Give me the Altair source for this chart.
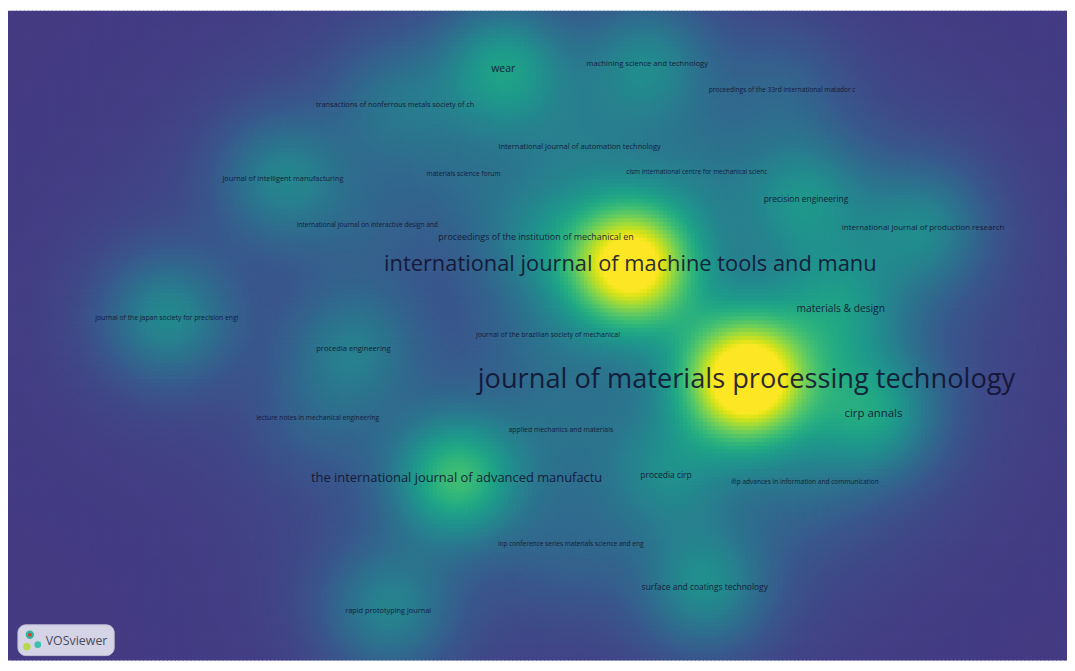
import altair as alt
import numpy as np
import pandas as pd

# ---- journals (label text, position in picture pixels, density weight, label font size)
names = [
    "journal of materials processing technology",
    "international journal of machine tools and manu",
    "the international journal of advanced manufactu",
    "cirp annals",
    "materials & design",
    "proceedings of the institution of mechanical en",
    "wear",
    "precision engineering",
    "international journal of production research",
    "surface and coatings technology",
    "procedia cirp",
    "machining science and technology",
    "proceedings of the 33rd international matador c",
    "transactions of nonferrous metals society of ch",
    "international journal of automation technology",
    "journal of intelligent manufacturing",
    "materials science forum",
    "cism international centre for mechanical scienc",
    "international journal on interactive design and",
    "journal of the japan society for precision engi",
    "procedia engineering",
    "journal of the brazilian society of mechanical",
    "lecture notes in mechanical engineering",
    "applied mechanics and materials",
    "ifip advances in information and communication",
    "iop conference series materials science and eng",
    "rapid prototyping journal",
]
node_x = [752, 635, 460, 880, 847, 540, 507, 812, 930, 710, 671, 652, 788, 398,
          584, 285, 467, 702, 370, 168, 356, 552, 320, 565, 811, 575, 391]
node_y = [385, 267, 485, 420, 312, 239, 68, 200, 230, 596, 482, 63, 89, 104,
          147, 180, 175, 173, 227, 322, 353, 339, 424, 436, 489, 552, 620]
weights = [1.14, 1.04, 0.58, 0.40, 0.29, 0.18, 0.42, 0.31, 0.30, 0.34, 0.24,
           0.30, 0.12, 0.20, 0.12, 0.30, 0.08, 0.10, 0.08, 0.34, 0.24, 0.08,
           0.10, 0.10, 0.08, 0.10, 0.30]
font_sizes = [27.4, 22.0, 13.0, 11.5, 10.3, 9.0, 10.6, 8.5, 8.0, 8.5, 8.5, 7.7,
              6.6, 7.3, 7.5, 7.4, 6.7, 6.5, 6.6, 6.9, 7.6, 7.0, 6.7, 6.9,
              6.6, 6.6, 7.4]

X0, X1, Y0, Y1 = 8, 1075, 8, 671
W, H = 1067, 655
CELL = 4
S1, S2, B = 44.0, 100.0, 0.12

gx = np.arange(X0, X1, CELL, dtype=float)
gy = np.arange(Y0, Y1, CELL, dtype=float)
GX, GY = np.meshgrid(gx + CELL / 2, gy + CELL / 2)
D = np.zeros_like(GX)
for x, y, w in zip(node_x, node_y, weights):
    r2 = (GX - x) ** 2 + (GY - y) ** 2
    D += w * ((1 - B) * np.exp(-r2 / (2 * S1 ** 2)) + B * np.exp(-r2 / (2 * S2 ** 2)))
D = np.clip(D, 0, 1)
grid = pd.DataFrame({
    "x": (GX - CELL / 2).ravel().round(1),
    "y": (GY - CELL / 2).ravel().round(1),
    "d": D.ravel().round(3),
})

labels = pd.DataFrame({"name": names, "x": node_x, "y": node_y, "fs": font_sizes})

xs = alt.Scale(domain=[X0, X1], nice=False, zero=False)
ys = alt.Scale(domain=[Y0, Y1], nice=False, zero=False, reverse=True)

density = alt.Chart(grid).mark_rect(clip=True).transform_calculate(
    x2=f"datum.x + {CELL + 1.2}", y2=f"datum.y + {CELL + 1.2}"
).encode(
    x=alt.X("x:Q", scale=xs, axis=None),
    x2="x2:Q",
    y=alt.Y("y:Q", scale=ys, axis=None),
    y2="y2:Q",
    color=alt.Color("d:Q", legend=None,
                    scale=alt.Scale(scheme=alt.SchemeParams(name="viridis", extent=[0.17, 1.0]),
                                    domain=[0, 1], clamp=True)),
)

text = alt.Chart(labels).mark_text(
    font="Open Sans", align="center", baseline="middle", color="#111130", opacity=0.88
).encode(
    x=alt.X("x:Q", scale=xs, axis=None),
    y=alt.Y("y:Q", scale=ys, axis=None),
    text="name:N",
    size=alt.Size("fs:Q", scale=None, legend=None),
)

one = pd.DataFrame({"a": [0]})
badge = alt.Chart(one).mark_rect(cornerRadius=8, fill="#e2e2f0", opacity=0.92,
                                 stroke="#c8c8dc").encode(
    x=alt.value(10), x2=alt.value(107), y=alt.value(H - 36), y2=alt.value(H - 5))
logo1 = alt.Chart(one).mark_circle(color="#2fb5a0", size=70, opacity=1).encode(
    x=alt.value(22), y=alt.value(H - 26))
logo1b = alt.Chart(one).mark_circle(color="#d83a2a", size=14, opacity=1).encode(
    x=alt.value(22), y=alt.value(H - 26))
logo2 = alt.Chart(one).mark_circle(color="#b6d84a", size=55, opacity=1).encode(
    x=alt.value(19), y=alt.value(H - 14))
logo3 = alt.Chart(one).mark_circle(color="#3cc0b0", size=45, opacity=1).encode(
    x=alt.value(30), y=alt.value(H - 16))
badge_text = alt.Chart(one).mark_text(font="Open Sans", fontSize=12.5, align="left",
                                      baseline="middle", color="#4a4a5a").encode(
    x=alt.value(38), y=alt.value(H - 20), text=alt.value("VOSviewer"))

chart = alt.layer(density, text, badge, logo1, logo2, logo3, logo1b, badge_text).properties(
    width=W, height=H, padding=0, autosize=alt.AutoSizeParams(type="none")
).configure_view(stroke=None)

chart.save("out.html", embed_options={"renderer": "svg", "actions": False})
